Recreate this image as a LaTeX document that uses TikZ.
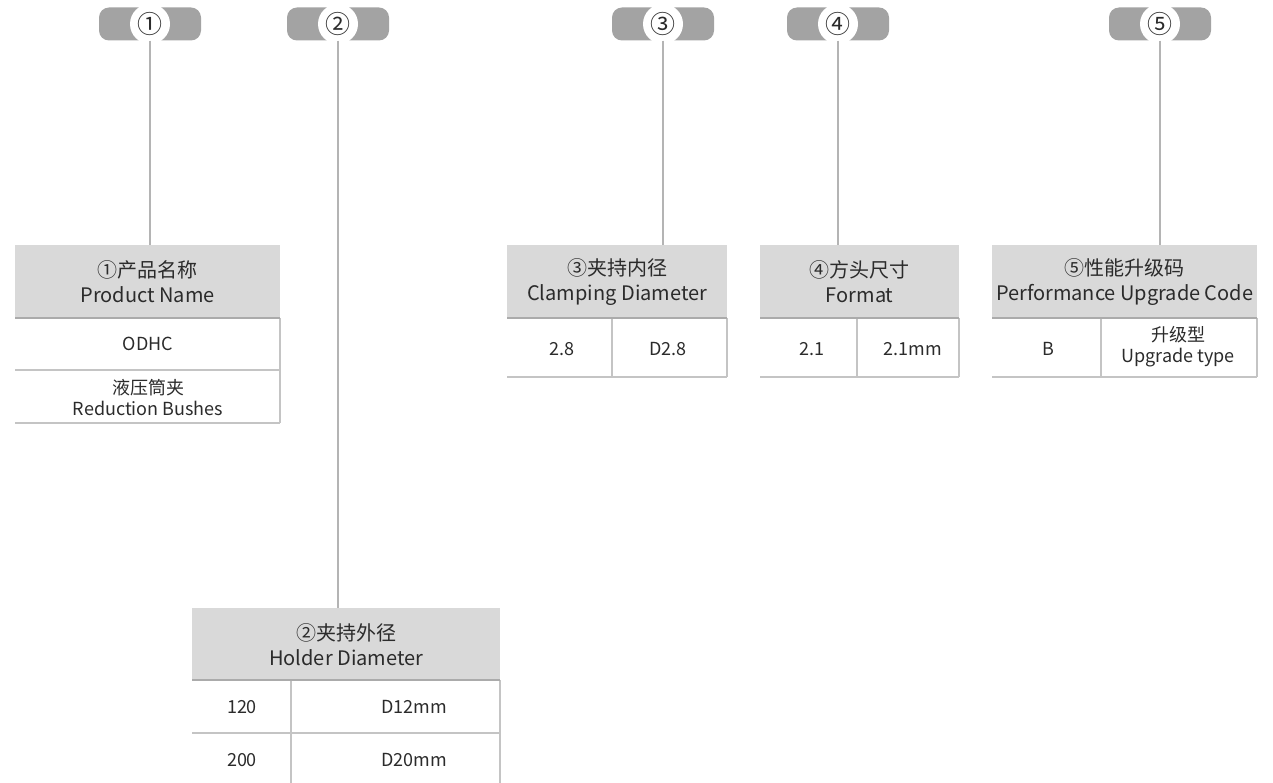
\documentclass[tikz,border=0pt]{standalone}
\usepackage{fontspec}
\setmainfont{Noto Sans CJK SC}
\definecolor{pillgray}{HTML}{A3A3A3}
\definecolor{hdrgray}{HTML}{D9D9D9}
\definecolor{linegray}{HTML}{B4B4B4}
\definecolor{rowline}{HTML}{C4C4C4}
\definecolor{hdrline}{HTML}{ABABAB}
\definecolor{txt}{HTML}{2B2B2B}
\begin{document}
\begin{tikzpicture}[x=1pt,y=-1pt,
  pill/.style={fill=pillgray, rounded corners=10pt, minimum width=102pt, minimum height=33pt, inner sep=0pt},
  tagc/.style={circle, fill=white, minimum size=40pt, inner sep=0pt},
  tagn/.style={inner sep=0pt, text=txt, font=\fontsize{25}{25}\selectfont},
  hdr/.style={fill=hdrgray, anchor=north west, inner sep=0pt, minimum height=73pt, align=center, text=txt, font=\fontsize{20}{25}\selectfont},
  cell/.style={inner sep=0pt, align=center, text=txt, font=\fontsize{18}{21}\selectfont},
  conn/.style={draw=linegray, line width=1.5pt},
  rline/.style={draw=rowline, line width=1.2pt},
  hline/.style={draw=hdrline, line width=1.5pt}]
\useasboundingbox (0,0) rectangle (1273,783);

% tags
\foreach \n/\cx in {1/150,2/338,3/663,4/838,5/1160}{
  \node[pill] (p\n) at (\cx,24) {};
  \node[tagc] (c\n) at (\cx,24) {};
}
\node[tagn] at (c1) {①};
\node[tagn] at (c2) {②};
\node[tagn] at (c3) {③};
\node[tagn] at (c4) {④};
\node[tagn] at (c5) {⑤};

% table 1
\node[hdr, minimum width=265pt] (h1) at (15,245) {①产品名称\\Product Name};
\draw[rline] (15,370) -- (280,370);
\draw[rline] (15,423) -- (280,423);
\draw[rline] (280,318) -- (280,423);
\draw[hline] (15,318) -- (280,318);
\node[cell] (r1a) at (148,344) {ODHC};
\node[cell] (r1b) at (148,398) {液压筒夹\\Reduction Bushes};

% table 2
\node[hdr, minimum width=308pt] (h2) at (192,608) {②夹持外径\\Holder Diameter};
\draw[rline] (192,733) -- (500,733);
\draw[rline] (500,680) -- (500,783);
\draw[rline] (291,680) -- (291,783);
\draw[hline] (192,680) -- (500,680);
\node[cell] (r2a) at (242,707) {120};
\node[cell] (r2b) at (414,707) {D12mm};
\node[cell] (r2c) at (242,760) {200};
\node[cell] (r2d) at (414,760) {D20mm};

% table 3
\node[hdr, minimum width=220pt] (h3) at (507,245) {③夹持内径\\Clamping Diameter};
\draw[rline] (507,377) -- (727,377);
\draw[rline] (727,318) -- (727,377);
\draw[rline] (612,318) -- (612,377);
\draw[hline] (507,318) -- (727,318);
\node[cell] (r3a) at (562,349) {2.8};
\node[cell] (r3b) at (668,349) {D2.8};

% table 4
\node[hdr, minimum width=199pt] (h4) at (760,245) {④方头尺寸\\Format};
\draw[rline] (760,377) -- (959,377);
\draw[rline] (959,318) -- (959,377);
\draw[rline] (857,318) -- (857,377);
\draw[hline] (760,318) -- (959,318);
\node[cell] (r4a) at (812,349) {2.1};
\node[cell] (r4b) at (913,349) {2.1mm};

% table 5
\node[hdr, minimum width=265pt] (h5) at (992,245) {⑤性能升级码\\Performance Upgrade Code};
\draw[rline] (992,377) -- (1257,377);
\draw[rline] (1257,318) -- (1257,377);
\draw[rline] (1101,318) -- (1101,377);
\draw[hline] (992,318) -- (1257,318);
\node[cell] (r5a) at (1048,349) {B};
\node[cell] (r5b) at (1178,347) {升级型\\Upgrade type};

% connectors
\draw[conn] (p1.south) -- (h1.north -| p1.south);
\draw[conn] (p2.south) -- (h2.north -| p2.south);
\draw[conn] (p3.south) -- (h3.north -| p3.south);
\draw[conn] (p4.south) -- (h4.north -| p4.south);
\draw[conn] (p5.south) -- (h5.north -| p5.south);
\end{tikzpicture}
\end{document}
